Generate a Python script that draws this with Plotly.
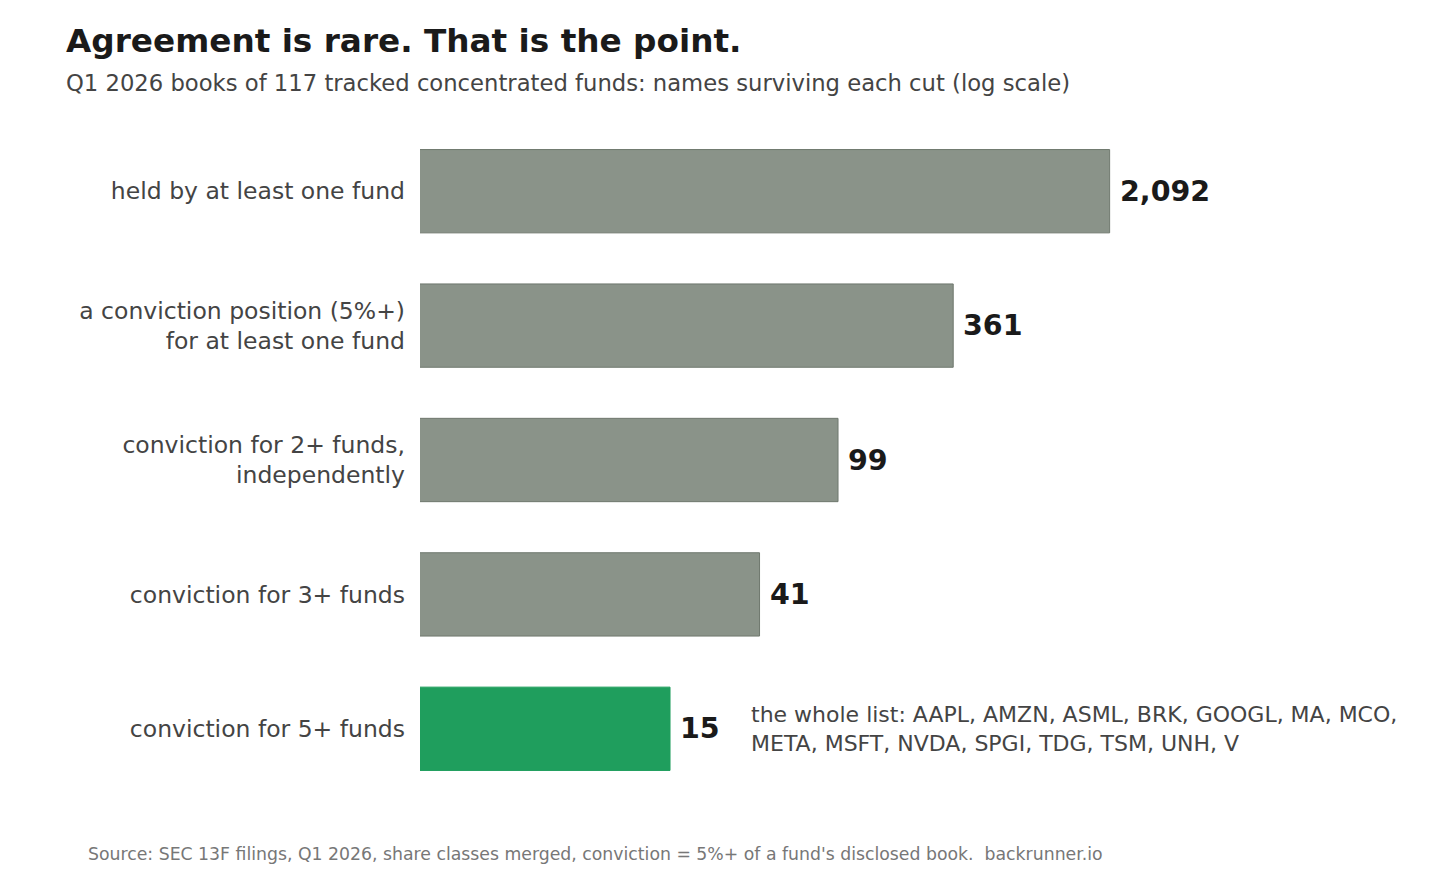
import numpy as np
import plotly.graph_objects as go

labels = [
    "held by at least one fund",
    "a conviction position (5%+)<br>for at least one fund",
    "conviction for 2+ funds,<br>independently",
    "conviction for 3+ funds",
    "conviction for 5+ funds",
]
counts = [2092, 361, 99, 41, 15]
colors = ["#8a9389", "#8a9389", "#8a9389", "#8a9389", "#1f9e5d"]
edges = ["#6f786e", "#6f786e", "#6f786e", "#6f786e", "#1f9e5d"]
the_list = "the whole list: AAPL, AMZN, ASML, BRK, GOOGL, MA, MCO,<br>META, MSFT, NVDA, SPGI, TDG, TSM, UNH, V"

FONT = "DejaVu Sans"

fig = go.Figure(go.Bar(
    x=counts,
    y=labels,
    orientation="h",
    width=0.62,
    marker=dict(color=colors, line=dict(color=edges, width=1)),
    hoverinfo="skip",
))

# value labels just past the bar ends
for lab, v in zip(labels, counts):
    fig.add_annotation(
        x=np.log10(v), y=lab, xref="x", yref="y",
        text="<b>{:,}</b>".format(v), showarrow=False,
        xanchor="left", xshift=8,
        font=dict(family=FONT, size=28.5, color="#1a1a1a"),
    )

fig.add_annotation(
    x=0.329, y=labels[-1], xref="paper", yref="y",
    text=the_list, showarrow=False, xanchor="left", align="left",
    font=dict(family=FONT, size=22, color="#444444"),
)

fig.add_annotation(
    x=-0.356, y=1.124, xref="paper", yref="paper",
    text="<b>Agreement is rare. That is the point.</b>", showarrow=False,
    xanchor="left", yanchor="middle",
    font=dict(family=FONT, size=32.7, color="#1a1a1a"),
)
fig.add_annotation(
    x=-0.356, y=1.061, xref="paper", yref="paper",
    text="Q1 2026 books of 117 tracked concentrated funds: names surviving each cut (log scale)",
    showarrow=False, xanchor="left", yanchor="middle",
    font=dict(family=FONT, size=22.7, color="#444444"),
)
fig.add_annotation(
    x=-0.334, y=-0.087, xref="paper", yref="paper",
    text="Source: SEC 13F filings, Q1 2026, share classes merged, conviction = 5%+ of a fund's disclosed book.  backrunner.io",
    showarrow=False, xanchor="left", yanchor="middle",
    font=dict(family=FONT, size=17.3, color="#777777"),
)

fig.update_layout(
    width=1456, height=874,
    margin=dict(l=412, r=44, t=116, b=86, pad=0),
    plot_bgcolor="white", paper_bgcolor="white",
    showlegend=False,
    font=dict(family=FONT),
    xaxis=dict(
        type="log", range=[-0.0435, -0.0435 + 1000 / 205],
        showgrid=False, zeroline=False, showline=False,
        showticklabels=False, ticks="",
    ),
    yaxis=dict(
        autorange="reversed", showgrid=False, zeroline=False, showline=False,
        ticks="", ticklabelstandoff=14,
        tickfont=dict(family=FONT, size=23.5, color="#444444"),
    ),
)

fig.write_html("out.html")
